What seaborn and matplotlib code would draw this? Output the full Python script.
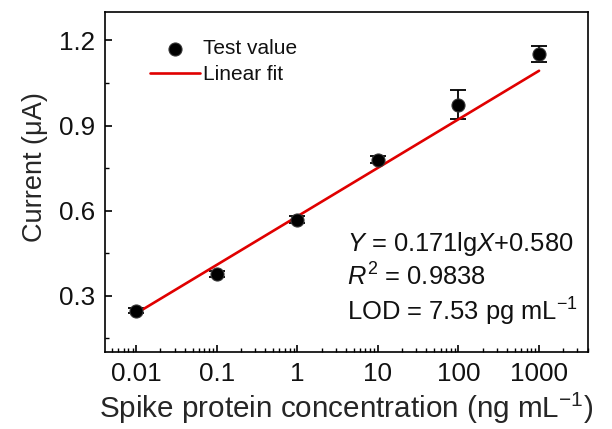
import numpy as np
import pandas as pd
import matplotlib
matplotlib.use("Agg")
import matplotlib.pyplot as plt
import seaborn as sns

conc = [0.01, 0.1, 1, 10, 100, 1000]
current = [0.248, 0.377, 0.568, 0.780, 0.974, 1.152]
err = [0.010, 0.012, 0.012, 0.012, 0.052, 0.028]
slope = 0.171
intercept = 0.580
xticks = [0.01, 0.1, 1, 10, 100, 1000]
xticklabels = ["0.01", "0.1", "1", "10", "100", "1000"]
yticks = [0.3, 0.6, 0.9, 1.2]

sns.set_theme(style="ticks")
plt.rcParams['font.family'] = ['Liberation Sans', 'DejaVu Sans']
plt.rcParams['mathtext.fontset'] = 'custom'
plt.rcParams['mathtext.rm'] = 'Liberation Sans'
plt.rcParams['mathtext.it'] = 'Liberation Sans:italic'
plt.rcParams['text.color'] = '#111111'

fig = plt.figure(figsize=(6.12, 4.29), dpi=100)
ax = fig.add_axes([105/612, 1-352/429, (588-105)/612, (352-12)/429])

df = pd.DataFrame({"conc": conc, "current": current})
fitx = np.array([conc[0], conc[-1]])
fit_df = pd.DataFrame({"conc": fitx, "fit": slope*np.log10(fitx)+intercept})

ax.errorbar(conc, current, yerr=err, fmt='none', ecolor='black', elinewidth=1.3,
            capsize=6, capthick=1.3, zorder=2)
sns.lineplot(data=fit_df, x="conc", y="fit", ax=ax, color="#e00000", lw=1.9,
             label="Linear fit", zorder=3)
sns.scatterplot(data=df, x="conc", y="current", ax=ax, color="black", s=88,
                edgecolor="#333333", linewidth=0.8, label="Test value", zorder=4)

ax.set_xscale("log")
ax.set_xlim(0.0041, 4050)
ax.set_ylim(0.102, 1.30)
ax.set_xticks(xticks)
ax.set_xticklabels(xticklabels)
ax.set_yticks(yticks)
ax.set_yticks([0.15, 0.45, 0.75, 1.05], minor=True)
ax.tick_params(which="both", direction="in", top=False, right=False, labelsize=18.7, colors="black", labelcolor="#111111")
ax.tick_params(which="major", length=5, width=1.2)
ax.tick_params(axis='x', which='major', pad=7.5)
ax.tick_params(axis='y', which='major', pad=7.2)
ax.tick_params(which="minor", length=3, width=1.0)
for s in ax.spines.values():
    s.set_linewidth(1.2)
    s.set_color("black")
ax.set_xlabel("Spike protein concentration (ng mL$^{-1}$)", fontsize=21.3, labelpad=3)
ax.set_ylabel("Current (μA)", fontsize=19.5)
ax.yaxis.set_label_coords(-0.117, 0.544)

h, l = ax.get_legend_handles_labels()
order = [l.index("Test value"), l.index("Linear fit")]
ax.legend([h[i] for i in order], [l[i] for i in order], loc="upper left",
          bbox_to_anchor=(0.093, 0.92), frameon=False, fontsize=15,
          borderaxespad=0, borderpad=0,
          handlelength=2.4, handletextpad=0.15, labelspacing=0.35)

ax.text(0.501, 0.297, r"$\it{Y}$ = 0.171lg$\it{X}$+0.580", transform=ax.transAxes, fontsize=18.4, va="baseline")
ax.text(0.501, 0.194, r"$\it{R}^2$ = 0.9838", transform=ax.transAxes, fontsize=18.4, va="baseline")
ax.text(0.501, 0.091, r"LOD = 7.53 pg mL$^{-1}$", transform=ax.transAxes, fontsize=18.4, va="baseline")

fig.savefig("out.png", dpi=100)
